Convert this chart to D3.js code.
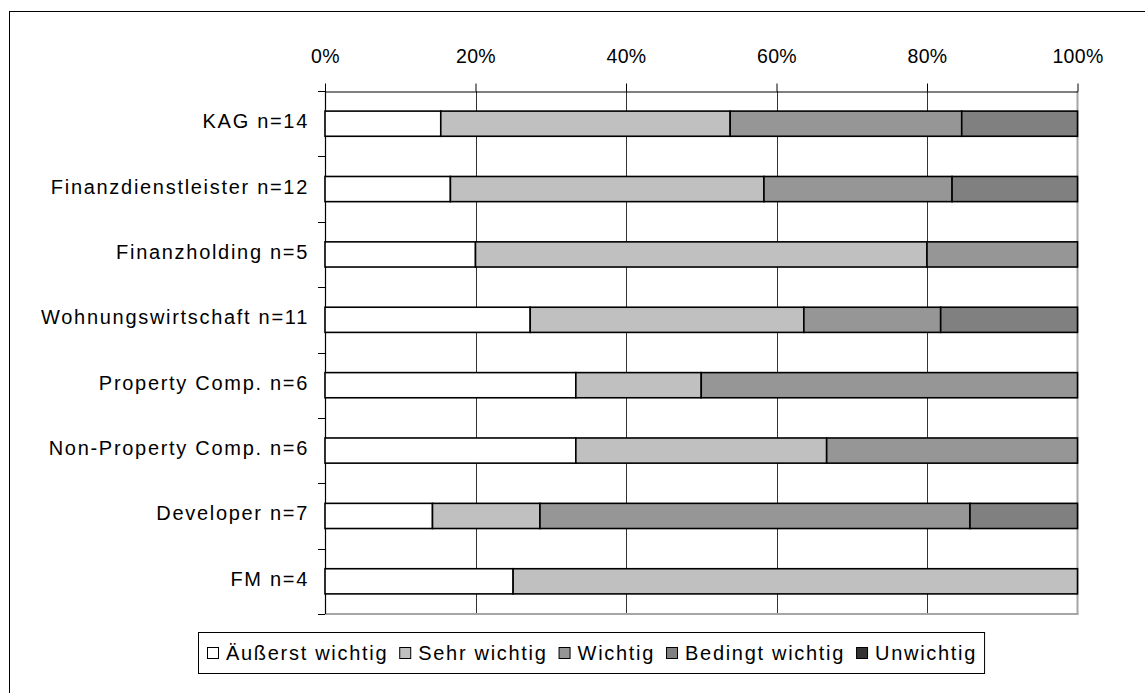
<!DOCTYPE html>
<html>
<head>
<meta charset="utf-8">
<script src="https://cdn.jsdelivr.net/npm/d3@7"></script>
<style>
  html, body { margin: 0; padding: 0; background: #fff; }
  svg text { font-family: "Liberation Sans", Arial, sans-serif; fill: #000; }
</style>
</head>
<body>
<svg id="chart" width="1145" height="693"></svg>
<script>
// Groups (with sample size) and answer counts per importance level
const categories = [
  "KAG n=14",
  "Finanzdienstleister n=12",
  "Finanzholding n=5",
  "Wohnungswirtschaft n=11",
  "Property Comp. n=6",
  "Non-Property Comp. n=6",
  "Developer n=7",
  "FM n=4"
];
const seriesNames = ["Äußerst wichtig", "Sehr wichtig", "Wichtig", "Bedingt wichtig", "Unwichtig"];
const aeusserstWichtig = [2, 2, 1, 3, 2, 2, 1, 1];
const sehrWichtig      = [5, 5, 3, 4, 1, 2, 1, 3];
const wichtig          = [4, 3, 1, 2, 3, 2, 4, 0];
const bedingtWichtig   = [2, 2, 0, 2, 0, 0, 1, 0];
const unwichtig        = [0, 0, 0, 0, 0, 0, 0, 0];
const tickValues = [0, 0.2, 0.4, 0.6, 0.8, 1.0];

const seriesColors = ["#ffffff", "#c0c0c0", "#969696", "#808080", "#333333"];
const seriesValues = [aeusserstWichtig, sehrWichtig, wichtig, bedingtWichtig, unwichtig];

const rows = categories.map((c, i) => {
  const r = { category: c };
  seriesNames.forEach((s, k) => { r[s] = seriesValues[k][i]; });
  return r;
});

const stacked = d3.stack()
  .keys(seriesNames)
  .offset(d3.stackOffsetExpand)(rows);

const svg = d3.select("#chart");
const font = "20px";
const spacing = "1.7px";

// outer frame
svg.append("rect")
  .attr("x", 9.5).attr("y", 11.5)
  .attr("width", 1200).attr("height", 800)
  .attr("fill", "none").attr("stroke", "#000").attr("stroke-width", 1);

const plot = { left: 325, right: 1077.5, top: 91, bottom: 614 };

const x = d3.scaleLinear().domain([0, 1]).range([plot.left, plot.right]);
const y = d3.scaleBand().domain(categories).range([plot.top, plot.bottom]).padding(0);
const barH = y.bandwidth() * 0.385;

// vertical gridlines
svg.append("g")
  .selectAll("line")
  .data(tickValues.filter(v => v > 0 && v < 1))
  .join("line")
  .attr("x1", d => Math.round(x(d)) + 0.5).attr("x2", d => Math.round(x(d)) + 0.5)
  .attr("y1", plot.top).attr("y2", plot.bottom)
  .attr("stroke", "#333").attr("stroke-width", 1);

// plot area right and bottom edges
svg.append("line")
  .attr("x1", plot.right).attr("x2", plot.right)
  .attr("y1", plot.top).attr("y2", plot.bottom)
  .attr("stroke", "#a6a6a6").attr("stroke-width", 2);
svg.append("line")
  .attr("x1", plot.left).attr("x2", plot.right + 1)
  .attr("y1", plot.bottom).attr("y2", plot.bottom)
  .attr("stroke", "#a6a6a6").attr("stroke-width", 2);

// top value axis
const xAxis = d3.axisTop(x)
  .tickValues(tickValues)
  .tickFormat(d3.format(".0%"))
  .tickSizeInner(8).tickSizeOuter(0).tickPadding(21);
const gx = svg.append("g")
  .attr("transform", `translate(0,${plot.top + 0.5})`)
  .call(xAxis);
gx.select(".domain").attr("stroke", "#000");
gx.selectAll(".tick line").attr("stroke", "#000");
gx.selectAll(".tick text")
  .style("font-size", "19.5px").style("letter-spacing", "0.3px")
  .attr("fill", "#000");

// left category axis: ticks between bands
const boundaries = categories.map(c => y(c)).concat([plot.bottom]);
svg.append("line")
  .attr("x1", plot.left + 0.5).attr("x2", plot.left + 0.5)
  .attr("y1", plot.top).attr("y2", plot.bottom)
  .attr("stroke", "#000").attr("stroke-width", 1.2);
svg.append("g")
  .selectAll("line")
  .data(boundaries)
  .join("line")
  .attr("x1", plot.left - 7).attr("x2", plot.left)
  .attr("y1", d => Math.round(d) + 0.5).attr("y2", d => Math.round(d) + 0.5)
  .attr("stroke", "#000");

svg.append("g")
  .selectAll("text")
  .data(categories)
  .join("text")
  .attr("x", 309)
  .attr("y", d => y(d) + y.bandwidth() / 2 + 4.5)
  .attr("text-anchor", "end")
  .style("font-size", font).style("letter-spacing", spacing)
  .text(d => d);

// stacked bars
const layers = svg.append("g")
  .selectAll("g")
  .data(stacked)
  .join("g")
  .attr("fill", (d, i) => seriesColors[i]);

layers.selectAll("rect")
  .data(d => d.filter(p => p[1] - p[0] > 0))
  .join("rect")
  .attr("x", d => x(d[0]))
  .attr("width", d => x(d[1]) - x(d[0]))
  .attr("y", d => y(d.data.category) + (y.bandwidth() - barH) / 2)
  .attr("height", barH)
  .attr("stroke", "#000").attr("stroke-width", 1.6);

// legend
const legend = svg.append("g");
const legendBox = legend.append("rect")
  .attr("fill", "#fff").attr("stroke", "#000").attr("stroke-width", 1);
let cursor = 207;
const legendY = 653;
seriesNames.forEach((name, i) => {
  legend.append("rect")
    .attr("x", cursor + 0.5).attr("y", legendY - 6 + 0.5)
    .attr("width", 11).attr("height", 11)
    .attr("fill", seriesColors[i]).attr("stroke", "#000").attr("stroke-width", 1);
  const t = legend.append("text")
    .attr("x", cursor + 19)
    .attr("y", legendY + 7)
    .style("font-size", font).style("letter-spacing", spacing)
    .text(name);
  const w = t.node().getComputedTextLength();
  cursor = cursor + 19 + w + 11;
});
legendBox
  .attr("x", 198.5).attr("y", 632.5)
  .attr("width", cursor - 198 - 4).attr("height", 41);
</script>
</body>
</html>
